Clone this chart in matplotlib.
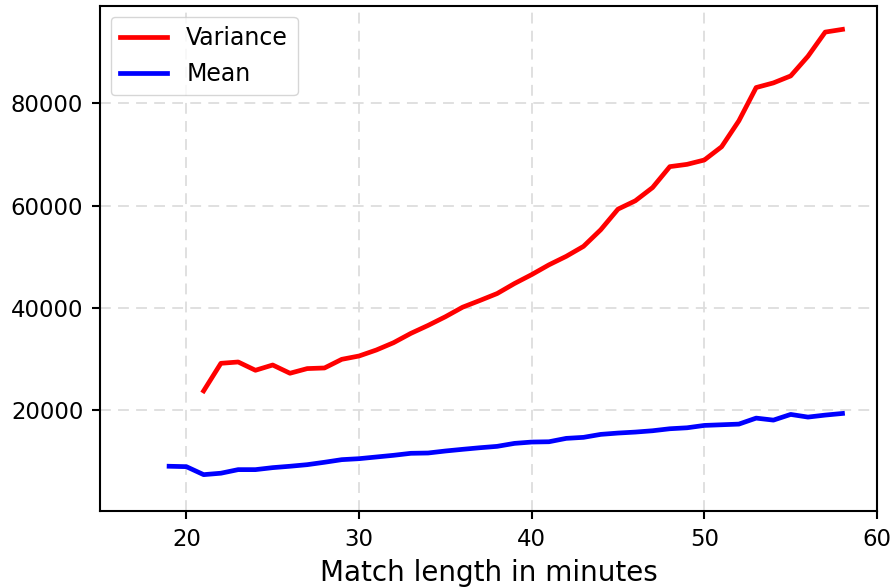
import matplotlib
matplotlib.use("Agg")
import matplotlib.pyplot as plt

# Data
minutes_var = list(range(21, 59))
variance = [23770, 29160, 29420, 27800, 28830, 27220, 28130, 28250, 29940, 30590,
            31760, 33190, 35010, 36570, 38260, 40130, 41440, 42800, 44750, 46500,
            48410, 50070, 52020, 55270, 59300, 60920, 63510, 67600, 68050, 68900,
            71490, 76560, 83060, 83970, 85330, 89170, 93900, 94430]

minutes_mean = list(range(19, 59))
mean = [9040, 8960, 7400, 7680, 8380, 8380, 8770, 9040, 9350, 9820,
        10330, 10520, 10850, 11180, 11570, 11630, 12020, 12350, 12660, 12930,
        13510, 13770, 13830, 14490, 14690, 15270, 15530, 15720, 15980, 16370,
        16560, 17020, 17150, 17280, 18450, 18060, 19170, 18650, 19040, 19360]

x_ticks = [20, 30, 40, 50, 60]
y_ticks = [20000, 40000, 60000, 80000]

fig = plt.figure(figsize=(8.94, 5.88), dpi=100)
ax = fig.add_axes([0.1119, 0.131, 0.981 - 0.1119, 0.9898 - 0.131])

ax.plot(minutes_var, variance, color="red", lw=3.4, label="Variance")
ax.plot(minutes_mean, mean, color="blue", lw=3.4, label="Mean")

ax.set_xlim(15, 60)
ax.set_ylim(300, 99000)
ax.set_xticks(x_ticks)
ax.set_yticks(y_ticks)
ax.grid(True, linestyle=(0, (6, 4)), color="#dddddd", lw=1.3)
ax.set_axisbelow(True)

for s in ax.spines.values():
    s.set_linewidth(1.5)
ax.tick_params(direction="out", length=6, width=1.5, labelsize=16.4, pad=6)
ax.set_xlabel("Match length in minutes", fontsize=20, labelpad=6)

leg = ax.legend(loc="upper left", fontsize=17, handlelength=2.0, framealpha=0.8,
                borderaxespad=0.45)

fig.savefig("out.png", dpi=100)
